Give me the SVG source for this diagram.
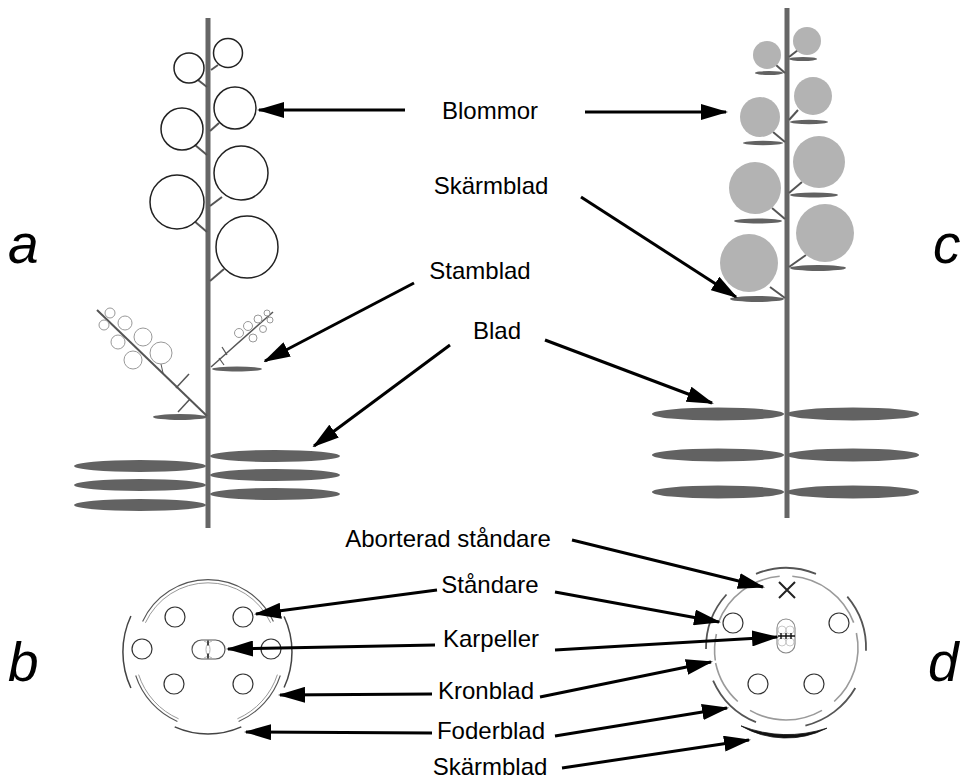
<svg xmlns="http://www.w3.org/2000/svg" width="976" height="782" viewBox="0 0 976 782">
<defs>
  <marker id="ah" markerUnits="userSpaceOnUse" viewBox="0 0 27 16" markerWidth="27" markerHeight="16" refX="25" refY="8" orient="auto">
    <path d="M0,0 L27,8 L0,16 z" fill="#000"/>
  </marker>
</defs>
<style>
  .stem{stroke:#666;stroke-width:5;fill:none}
  .ped{stroke:#555;stroke-width:2;fill:none}
  .fa{fill:#fff;stroke:#222;stroke-width:1.5}
  .fc{fill:#b3b3b3}
  .leaf{fill:#626262}
  .twig{stroke:#555;fill:none}
  .bud{fill:#fff;stroke:#999;stroke-width:1}
  .lbl{font-family:"Liberation Sans",Arial,sans-serif;font-size:24px;text-anchor:middle;fill:#000}
  .let{font-family:"Liberation Sans",Arial,sans-serif;font-style:italic;font-size:55px;fill:#000}
  .arr{stroke:#000;stroke-width:3;fill:none;marker-end:url(#ah)}
  .st{fill:#fff;stroke:#333;stroke-width:1.2}
  .pet{fill:none;stroke:#555;stroke-width:1.1}
  .pet2{fill:none;stroke:#999;stroke-width:1}
  .sep{fill:none;stroke:#444;stroke-width:1.5}
  .dpet{fill:none;stroke:#9a9a9a;stroke-width:1.6}
  .dsep{fill:none;stroke:#555;stroke-width:1.8}
</style>

<!-- plant a: open flowers, no bracts -->
<g id="plant-a">
  <line class="stem" x1="208" y1="18" x2="208" y2="528"/>
  <!-- flowers with pedicels -->
  <line class="ped" x1="198" y1="80" x2="207" y2="87"/>
  <line class="ped" x1="211" y1="70" x2="218" y2="65"/>
  <line class="ped" x1="195" y1="145" x2="207" y2="155"/>
  <line class="ped" x1="210" y1="131" x2="219" y2="123"/>
  <line class="ped" x1="193" y1="220" x2="207" y2="232"/>
  <line class="ped" x1="210" y1="206" x2="222" y2="197"/>
  <line class="ped" x1="210" y1="281" x2="224" y2="269"/>
  <circle class="fa" cx="189" cy="68" r="15"/>
  <circle class="fa" cx="228" cy="53" r="14.5"/>
  <circle class="fa" cx="182" cy="129" r="21"/>
  <circle class="fa" cx="235" cy="108" r="21"/>
  <circle class="fa" cx="177" cy="202" r="27"/>
  <circle class="fa" cx="241" cy="173" r="27"/>
  <circle class="fa" cx="247" cy="247" r="31"/>
  <!-- left side branch -->
  <line class="twig" stroke-width="2" x1="97" y1="310" x2="207" y2="416"/>
  <line class="twig" stroke-width="1.5" x1="176" y1="388" x2="189" y2="374"/>
  <line class="twig" stroke-width="1.5" x1="178" y1="412" x2="190" y2="399"/>
  <line class="twig" stroke-width="1" x1="161" y1="364" x2="163" y2="373"/>
  <circle class="bud" cx="110" cy="313" r="5"/>
  <circle class="bud" cx="104" cy="325" r="5"/>
  <circle class="bud" cx="125" cy="323" r="7"/>
  <circle class="bud" cx="118" cy="342" r="7"/>
  <circle class="bud" cx="143" cy="337" r="9"/>
  <circle class="bud" cx="133" cy="360" r="9"/>
  <circle class="bud" cx="161" cy="353" r="11"/>
  <ellipse class="leaf" cx="180" cy="417" rx="27" ry="3"/>
  <!-- right side branch -->
  <line class="twig" stroke-width="1.5" x1="211" y1="367" x2="273" y2="312"/>
  <line class="twig" stroke-width="1.2" x1="222" y1="347" x2="227" y2="355"/>
  <line class="twig" stroke-width="1.2" x1="219" y1="358" x2="224" y2="365"/>
  <circle class="bud" cx="239" cy="333" r="4.5"/>
  <circle class="bud" cx="248" cy="326" r="4.5"/>
  <circle class="bud" cx="253" cy="338" r="4"/>
  <circle class="bud" cx="258" cy="319" r="4"/>
  <circle class="bud" cx="263" cy="329" r="3.5"/>
  <circle class="bud" cx="267" cy="313" r="3"/>
  <circle class="bud" cx="270" cy="320" r="3"/>
  <ellipse class="leaf" cx="237" cy="369" rx="25" ry="2.5"/>
  <!-- foliage leaves -->
  <ellipse class="leaf" cx="140" cy="466" rx="66" ry="6"/>
  <ellipse class="leaf" cx="140" cy="485" rx="66" ry="6"/>
  <ellipse class="leaf" cx="140" cy="505" rx="66" ry="6"/>
  <ellipse class="leaf" cx="275" cy="456" rx="65" ry="6"/>
  <ellipse class="leaf" cx="275" cy="475" rx="65" ry="6"/>
  <ellipse class="leaf" cx="275" cy="494" rx="65" ry="6"/>
</g>

<!-- plant c: flowers each subtended by a bract -->
<g id="plant-c">
  <line class="stem" x1="787" y1="8" x2="787" y2="518"/>
  <line class="ped" x1="798" y1="50" x2="789" y2="57"/>
  <line class="ped" x1="776" y1="65" x2="785" y2="73"/>
  <line class="ped" x1="798" y1="110" x2="789" y2="120"/>
  <line class="ped" x1="773" y1="132" x2="785" y2="142"/>
  <line class="ped" x1="802" y1="182" x2="789" y2="193"/>
  <line class="ped" x1="772" y1="208" x2="785" y2="219"/>
  <line class="ped" x1="806" y1="255" x2="789" y2="267"/>
  <line class="ped" x1="770" y1="287" x2="785" y2="298"/>
  <circle class="fc" cx="807" cy="41" r="14"/>
  <circle class="fc" cx="767" cy="55" r="14"/>
  <circle class="fc" cx="813" cy="96" r="19"/>
  <circle class="fc" cx="760" cy="117" r="20"/>
  <circle class="fc" cx="819" cy="162" r="26"/>
  <circle class="fc" cx="755" cy="188" r="26"/>
  <circle class="fc" cx="825" cy="233" r="29"/>
  <circle class="fc" cx="749" cy="263" r="29"/>
  <ellipse class="leaf" cx="803" cy="59" rx="14" ry="2"/>
  <ellipse class="leaf" cx="769" cy="73" rx="14" ry="2"/>
  <ellipse class="leaf" cx="809" cy="122" rx="19" ry="2.2"/>
  <ellipse class="leaf" cx="763" cy="143" rx="20" ry="2.2"/>
  <ellipse class="leaf" cx="814" cy="195" rx="24" ry="2.5"/>
  <ellipse class="leaf" cx="758" cy="221" rx="24" ry="2.5"/>
  <ellipse class="leaf" cx="818" cy="268" rx="28" ry="3"/>
  <ellipse class="leaf" cx="757" cy="299" rx="27" ry="3"/>
  <!-- foliage leaves -->
  <ellipse class="leaf" cx="718" cy="414" rx="66" ry="6.5"/>
  <ellipse class="leaf" cx="718" cy="455" rx="66" ry="6.5"/>
  <ellipse class="leaf" cx="718" cy="492" rx="66" ry="6.5"/>
  <ellipse class="leaf" cx="853" cy="414" rx="66" ry="6.5"/>
  <ellipse class="leaf" cx="853" cy="455" rx="66" ry="6.5"/>
  <ellipse class="leaf" cx="853" cy="492" rx="66" ry="6.5"/>
</g>

<!-- floral diagram b, centre (208,652) -->
<g id="diagram-b">
  <!-- petals (double outline) -->
  <path class="pet" d="M142.6,621.5 A72,72 0 0 1 273.4,621.5"/>
  <path class="pet2" d="M145.4,622.8 A69,69 0 0 1 270.6,622.8"/>
  <path class="pet" d="M177.4,721.5 A76,76 0 0 1 135.7,675.5"/>
  <path class="pet2" d="M178.6,718.8 A73,73 0 0 1 138.6,674.6"/>
  <path class="pet" d="M280.3,675.5 A76,76 0 0 1 238.6,721.5"/>
  <path class="pet2" d="M277.4,674.6 A73,73 0 0 1 237.4,718.8"/>
  <!-- sepals -->
  <path class="sep" d="M130.9,688 A85,85 0 0 1 130.9,616"/>
  <path class="sep" d="M284.1,616.5 A84,84 0 0 1 284.1,687.5"/>
  <path class="sep" d="M241.3,726.9 A82,82 0 0 1 174.7,726.9"/>
  <!-- stamens -->
  <circle class="st" cx="175" cy="617" r="10"/>
  <circle class="st" cx="243" cy="617" r="10"/>
  <circle class="st" cx="142" cy="649" r="10"/>
  <circle class="st" cx="271" cy="649" r="10"/>
  <circle class="st" cx="174" cy="684" r="10"/>
  <circle class="st" cx="243" cy="684" r="10"/>
  <!-- carpels -->
  <rect x="192" y="640" width="33" height="19" rx="9.5" fill="#fff" stroke="#555" stroke-width="1.2"/>
  <path d="M204,641 A9,9 0 0 1 204,658 M212,641 A9,9 0 0 0 212,658" fill="none" stroke="#aaa" stroke-width="0.9"/>
  <path d="M208,640.5 V645.5 M208,653.5 V658.5" stroke="#222" stroke-width="1.6"/>
</g>

<!-- floral diagram d, centre (786,648) -->
<g id="diagram-d">
  <!-- petals -->
  <path class="dpet" d="M718.3,622.6 A72,72 0 0 1 779.7,576.3"/>
  <path class="dpet" d="M792.3,576.3 A72,72 0 0 1 853.7,622.6"/>
  <path class="dpet" d="M856.4,633 A72,72 0 0 1 834.2,701.5"/>
  <path class="dpet" d="M822,710.4 A72,72 0 0 1 750,710.4"/>
  <path class="dpet" d="M737.8,701.5 A72,72 0 0 1 715.6,663"/>
  <path class="dpet" d="M715.3,660.5 A72,72 0 0 1 716.4,634"/>
  <!-- sepals -->
  <path class="dsep" stroke="#888" d="M756,573.8 A80,80 0 0 1 816,573.8"/>
  <path class="dsep" d="M847.3,596.6 A80,80 0 0 1 866,650.8"/>
  <path class="dsep" d="M855.3,688 A80,80 0 0 1 805.4,725.6"/>
  <path class="dsep" d="M756,722.2 A80,80 0 0 1 713.1,680.6"/>
  <path class="dsep" d="M706,649 A80,80 0 0 1 726.5,594.5"/>
  <!-- bract -->
  <path d="M826.9,728.2 A90,90 0 0 1 741,725.9 A130,130 0 0 0 826.9,728.2 Z" fill="#111" stroke="#111" stroke-width="0.8"/>
  <!-- aborted stamen -->
  <path d="M779,582 L795,598 M795,582 L779,598" stroke="#222" stroke-width="2"/>
  <!-- stamens -->
  <circle class="st" cx="733" cy="623" r="10"/>
  <circle class="st" cx="839" cy="623" r="10"/>
  <circle class="st" cx="758" cy="684" r="10"/>
  <circle class="st" cx="814" cy="684" r="10"/>
  <!-- carpels -->
  <path d="M777,628 A9,9 0 0 1 795,628 L795,644 A9,9 0 0 1 777,644 Z" fill="#fff" stroke="#888" stroke-width="1.1"/>
  <circle cx="782" cy="630" r="4" fill="none" stroke="#bbb" stroke-width="0.8"/>
  <circle cx="790" cy="630" r="4" fill="none" stroke="#bbb" stroke-width="0.8"/>
  <circle cx="782" cy="642" r="4" fill="none" stroke="#bbb" stroke-width="0.8"/>
  <circle cx="790" cy="642" r="4" fill="none" stroke="#bbb" stroke-width="0.8"/>
  <path d="M778,636 H795 M781,633 V639 M786,633 V639 M791,633 V639" stroke="#111" stroke-width="1.4"/>
</g>

<!-- connectors -->
<g id="connectors">
  <line class="arr" x1="405" y1="110" x2="259" y2="110"/>
  <line class="arr" x1="585" y1="112" x2="726" y2="112"/>
  <line class="arr" x1="581" y1="197" x2="736" y2="297"/>
  <line class="arr" x1="414" y1="283" x2="265" y2="361"/>
  <line class="arr" x1="450" y1="345" x2="314" y2="446"/>
  <line class="arr" x1="545" y1="340" x2="712" y2="403"/>
  <line class="arr" x1="572" y1="540" x2="763" y2="587"/>
  <line class="arr" x1="437" y1="590" x2="256" y2="614"/>
  <line class="arr" x1="555" y1="592" x2="719" y2="622"/>
  <line class="arr" x1="435" y1="645" x2="228" y2="649"/>
  <line class="arr" x1="555" y1="650" x2="777" y2="637"/>
  <line class="arr" x1="432" y1="694" x2="280" y2="695"/>
  <line class="arr" x1="540" y1="697" x2="711" y2="662"/>
  <line class="arr" x1="432" y1="733" x2="246" y2="732"/>
  <line class="arr" x1="555" y1="736" x2="727" y2="708"/>
  <line class="arr" x1="562" y1="768" x2="749" y2="740"/>
</g>

<!-- labels -->
<g id="labels">
  <text class="lbl" x="490" y="119">Blommor</text>
  <text class="lbl" x="491" y="194">Skärmblad</text>
  <text class="lbl" x="480" y="279">Stamblad</text>
  <text class="lbl" x="497" y="339">Blad</text>
  <text class="lbl" x="448" y="547" font-size="26">Aborterad ståndare</text>
  <text class="lbl" x="490" y="593">Ståndare</text>
  <text class="lbl" x="491" y="647">Karpeller</text>
  <text class="lbl" x="486" y="699">Kronblad</text>
  <text class="lbl" x="491" y="739">Foderblad</text>
  <text class="lbl" x="490" y="775">Skärmblad</text>
  <text class="let" x="8" y="263">a</text>
  <text class="let" x="8" y="681">b</text>
  <text class="let" x="933" y="263">c</text>
  <text class="let" x="928" y="681">d</text>
</g>
</svg>
